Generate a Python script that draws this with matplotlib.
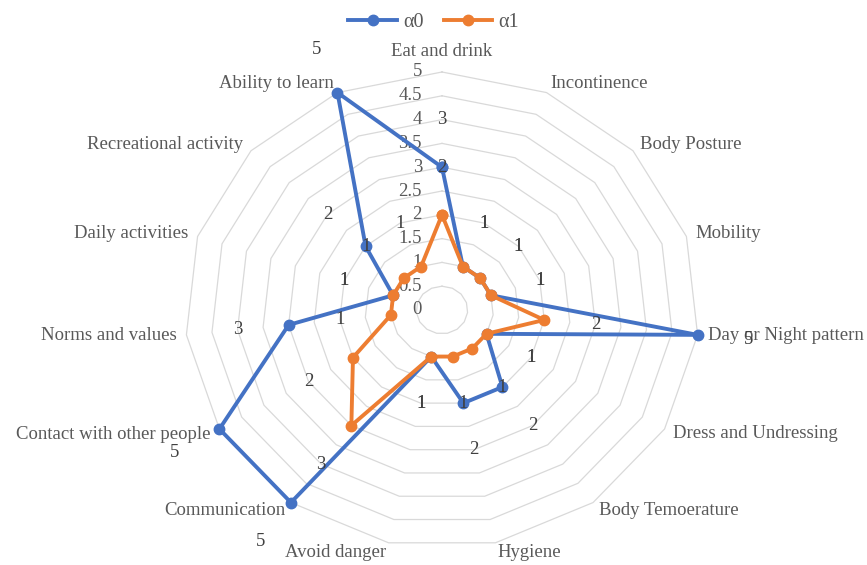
import numpy as np
import matplotlib.pyplot as plt

# Categories (clockwise from the top)
categories = ['Eat and drink', 'Incontinence', 'Body Posture', 'Mobility',
              'Day or Night pattern', 'Dress and Undressing', 'Body Temoerature',
              'Hygiene', 'Avoid danger', 'Communication', 'Contact with other people',
              'Norms and values', 'Daily activities', 'Recreational activity',
              'Ability to learn']
alpha0 = [3, 1, 1, 1, 5, 1, 2, 2, 1, 5, 5, 3, 1, 2, 5]
alpha1 = [2, 1, 1, 1, 2, 1, 1, 1, 1, 3, 2, 1, 1, 1, 1]
series_names = ['\u03b10', '\u03b11']
ring_values = np.arange(0, 5.01, 0.5)

plt.rcParams['font.family'] = ['Liberation Serif', 'DejaVu Serif']

blue = '#4472C4'
orange = '#ED7D31'
grey_text = '#595959'
fs = 13.5

fig = plt.figure(figsize=(8.67, 5.65), dpi=100)
ax = fig.add_axes([0, 0, 1, 1])
# stretched radar: one unit = 51.4 px across, 47.6 px up, centre at (442, 310)
ax.set_xlim(-442 / 51.4, 425 / 51.4)
ax.set_ylim(-255 / 47.6, 310 / 47.6)
ax.axis('off')

n = len(categories)
theta = np.arange(n) * 2 * np.pi / n
sx, sy = np.sin(theta), np.cos(theta)

# grid rings
for r in ring_values[1:]:
    ax.plot(np.append(r * sx, r * sx[0]), np.append(r * sy, r * sy[0]),
            color='#D9D9D9', lw=0.9, zorder=1)

# radial tick labels
for r in ring_values:
    ax.text(-0.39, r, f'{r:g}', ha='right', va='center', fontsize=fs,
            color=grey_text, zorder=2)

# category labels just outside the outer ring
for i, name in enumerate(categories):
    dx, dy = sx[i], sy[i]
    if abs(dx) < 1e-6:
        ha, va, off = 'center', 'bottom', 9
    else:
        ha = 'left' if dx > 0 else 'right'
        va, off = 'center', 7.2
    ax.annotate(name, (5 * dx, 5 * dy), xytext=(off * dx, off * dy),
                textcoords='offset points', ha=ha, va=va, fontsize=fs,
                color=grey_text)

# series
handles = []
for vals, color, name, z in [(alpha0, blue, series_names[0], 3),
                             (alpha1, orange, series_names[1], 4)]:
    v = np.array(vals, dtype=float)
    xs = np.append(v * sx, v[0] * sx[0])
    ys = np.append(v * sy, v[0] * sy[0])
    h, = ax.plot(xs, ys, color=color, lw=2.8, marker='o', markersize=7.5,
                 label=name, zorder=z)
    handles.append(h)

# data labels (sit one unit beyond each value)
for vals in (alpha0, alpha1):
    for i, v in enumerate(vals):
        ax.text((v + 1) * sx[i], (v + 1) * sy[i], f'{v}', ha='center',
                va='center', fontsize=fs, color='#404040', zorder=6)

fig.legend(handles=handles, loc='upper center', bbox_to_anchor=(0.5, 1.01),
           ncol=2, frameon=False, fontsize=14.5, handlelength=2.4,
           columnspacing=1.0, handletextpad=0.3, labelcolor=grey_text)

fig.savefig('out.png', dpi=100)
